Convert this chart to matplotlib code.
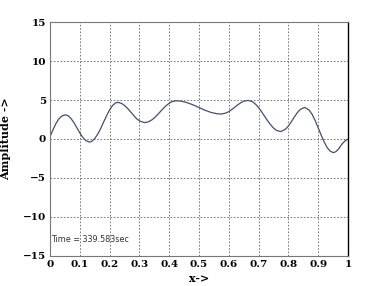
import matplotlib
matplotlib.use("Agg")
import matplotlib.pyplot as plt

# values
x_vals = [0.00, 0.01, 0.02, 0.03, 0.04, 0.051, 0.06, 0.07, 0.08, 0.09, 0.10,
          0.11, 0.12, 0.132, 0.14, 0.15, 0.16, 0.17, 0.18, 0.19, 0.20, 0.21,
          0.22, 0.227, 0.24, 0.25, 0.26, 0.27, 0.28, 0.29, 0.30, 0.317,
          0.33, 0.34, 0.35, 0.36, 0.37, 0.38, 0.39, 0.40, 0.41, 0.423, 0.44,
          0.46, 0.48, 0.50, 0.52, 0.54, 0.56, 0.575, 0.59, 0.60, 0.61, 0.62,
          0.63, 0.64, 0.65, 0.665, 0.68, 0.69, 0.70, 0.71, 0.72, 0.73, 0.74,
          0.75, 0.76, 0.774, 0.79, 0.80, 0.81, 0.82, 0.83, 0.84, 0.855, 0.87,
          0.88, 0.89, 0.90, 0.91, 0.92, 0.93, 0.94, 0.951, 0.96, 0.97, 0.98,
          0.99, 1.00]
amplitude = [0.3, 1.2, 2.0, 2.6, 2.95, 3.1, 3.0, 2.65, 2.1, 1.45, 0.78,
             0.2, -0.21, -0.4, -0.31, 0.05, 0.62, 1.35, 2.19, 3.0, 3.75, 4.3,
             4.63, 4.7, 4.57, 4.3, 3.93, 3.5, 3.04, 2.62, 2.32, 2.1,
             2.2, 2.41, 2.7, 3.09, 3.5, 3.91, 4.28, 4.59, 4.8, 4.9, 4.85,
             4.66, 4.38, 4.03, 3.69, 3.41, 3.24, 3.2, 3.33, 3.51, 3.78, 4.08,
             4.38, 4.64, 4.85, 4.95, 4.77, 4.45, 4.02, 3.5, 2.92, 2.35, 1.84,
             1.4, 1.11, 0.95, 1.25, 1.67, 2.22, 2.83, 3.38, 3.80, 4.05, 3.7,
             3.13, 2.35, 1.43, 0.5, -0.38, -1.1, -1.56, -1.75, -1.61, -1.2, -0.63,
             -0.25, 0.0]

x_ticks = [0, 0.1, 0.2, 0.3, 0.4, 0.5, 0.6, 0.7, 0.8, 0.9, 1]
x_tick_labels = ["0", "0.1", "0.2", "0.3", "0.4", "0.5", "0.6", "0.7", "0.8", "0.9", "1"]
y_ticks = [-15, -10, -5, 0, 5, 10, 15]
time_text = "Time = 339.583sec"

fig = plt.figure(figsize=(3.82, 2.86), dpi=100)
ax = fig.add_axes([0.131, 0.105, 0.78, 0.818])

ax.plot(x_vals, amplitude, color="#4a4a7a", linewidth=0.9)

ax.set_xlim(0, 1)
ax.set_ylim(-15, 15)
ax.set_xticks(x_ticks)
ax.set_xticklabels(x_tick_labels)
ax.set_yticks(y_ticks)
ax.tick_params(length=0, pad=3)
for lab in ax.get_xticklabels() + ax.get_yticklabels():
    lab.set_fontfamily("DejaVu Serif")
    lab.set_fontweight("bold")
    lab.set_fontsize(7.5)

ax.grid(True, color="#666666", linestyle=(0, (2, 2)), linewidth=0.6)
for side in ["left", "top", "bottom"]:
    ax.spines[side].set_color("#777777")
    ax.spines[side].set_linewidth(0.8)
ax.spines["right"].set_color("black")
ax.spines["right"].set_linewidth(1.0)

ax.set_xlabel("x->", fontfamily="DejaVu Serif", fontweight="bold", fontsize=8, labelpad=3)
ax.set_ylabel("Amplitude ->", fontfamily="DejaVu Serif", fontweight="bold", fontsize=8, labelpad=8)

ax.text(0.003, -12.9, time_text, fontsize=5.8, color="#333333", va="center", ha="left")

plt.savefig("out.png", dpi=100)
